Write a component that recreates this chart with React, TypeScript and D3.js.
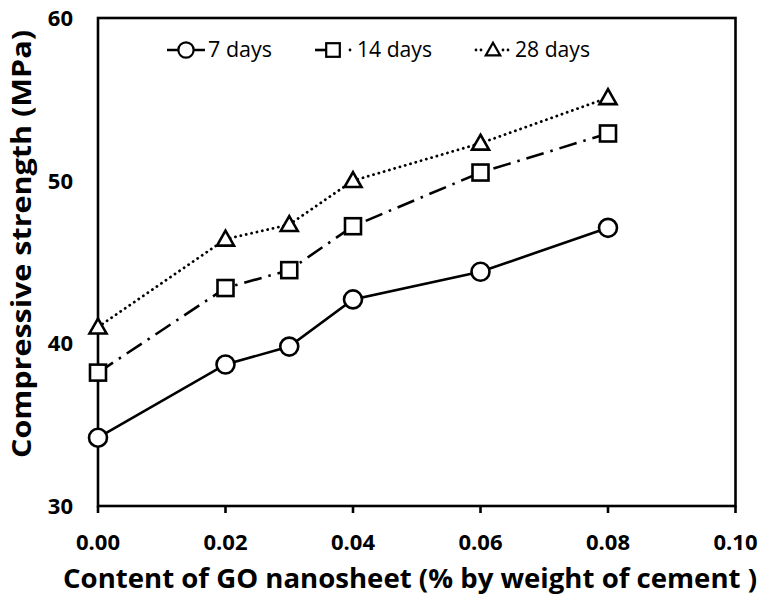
import React from "react";
import * as d3 from "d3";

const xValues = [0.0, 0.02, 0.03, 0.04, 0.06, 0.08];
const days7 = [34.2, 38.7, 39.8, 42.7, 44.4, 47.1];
const days14 = [38.2, 43.4, 44.5, 47.2, 50.5, 52.9];
const days28 = [41.0, 46.4, 47.3, 50.0, 52.3, 55.1];
const seriesNames = ["7 days", "14 days", "28 days"];
const xTicks = [0, 0.02, 0.04, 0.06, 0.08, 0.1];
const yTicks = [30, 40, 50, 60];

const W = 766;
const H = 599;
const left = 98;
const right = 735.5;
const top = 18;
const bottom = 506;
const FONT = "'Open Sans', 'Noto Sans', sans-serif";

function Marker({ kind, x, y }: { kind: string; x: number; y: number }) {
  const sw = 2.6;
  if (kind === "circle") return <circle cx={x} cy={y} r={9} fill="#fff" stroke="#000" strokeWidth={sw} />;
  if (kind === "square") return <rect x={x - 8} y={y - 8} width={16} height={16} fill="#fff" stroke="#000" strokeWidth={sw} />;
  const s = 8.5;
  return (
    <path
      d={`M${x},${y - s} L${x + s},${y + s * 0.75} L${x - s},${y + s * 0.75} Z`}
      fill="#fff"
      stroke="#000"
      strokeWidth={sw}
      strokeLinejoin="miter"
    />
  );
}

export default function App() {
  const x = d3.scaleLinear().domain([0, 0.1]).range([left, right]);
  const y = d3.scaleLinear().domain([30, 60]).range([bottom, top]);
  const line = d3
    .line<number>()
    .x((_, i) => x(xValues[i]))
    .y((d) => y(d));

  const series = [
    { name: seriesNames[0], values: days7, marker: "circle", dash: undefined as string | undefined, cap: "butt" },
    { name: seriesNames[1], values: days14, marker: "square", dash: "18,7,2.5,7", cap: "butt" },
    { name: seriesNames[2], values: days28, marker: "triangle", dash: "0.1,5.4", cap: "round" },
  ];

  const legendItems = [
    { x0: 167, x1: 205, mx: 186, tx: 208, tw: 64 },
    { x0: 315, x1: 352, mx: 333, tx: 357, tw: 75 },
    { x0: 474, x1: 510, mx: 493, tx: 515, tw: 75 },
  ];
  const legendY = 50;

  return (
    <svg width={W} height={H} style={{ position: "absolute", left: 0, top: 0, background: "#fff" }}>
      <rect x={0} y={0} width={W} height={H} fill="#fff" />
      {/* frame */}
      <rect x={left} y={top} width={right - left} height={bottom - top} fill="none" stroke="#000" strokeWidth={2.6} />
      {/* x ticks */}
      {xTicks.map((t) => (
        <g key={t}>
          <line x1={x(t)} x2={x(t)} y1={bottom} y2={bottom + 7} stroke="#000" strokeWidth={2.6} />
          <text x={x(t)} y={550} textAnchor="middle" fontFamily={FONT} fontWeight={700} fontSize={22}>
            {t.toFixed(2)}
          </text>
        </g>
      ))}
      {/* y labels */}
      {yTicks.map((t) => (
        <text key={t} x={73} y={y(t) + 8} textAnchor="end" fontFamily={FONT} fontWeight={700} fontSize={22}>
          {t}
        </text>
      ))}
      {/* axis titles */}
      <text
        x={410}
        y={588}
        textAnchor="middle"
        fontFamily={FONT}
        fontWeight={700}
        fontSize={26}
        textLength={694}
        lengthAdjust="spacingAndGlyphs"
      >
        Content of GO nanosheet (% by weight of cement )
      </text>
      <text
        transform={`translate(31,244) rotate(-90)`}
        textAnchor="middle"
        fontFamily={FONT}
        fontWeight={700}
        fontSize={26}
        textLength={428}
        lengthAdjust="spacingAndGlyphs"
      >
        Compressive strength (MPa)
      </text>
      {/* series */}
      {series.map((s) => (
        <g key={s.name}>
          <path
            d={line(s.values) || ""}
            fill="none"
            stroke="#000"
            strokeWidth={s.marker === "triangle" ? 2.8 : 2.6}
            strokeDasharray={s.dash}
            strokeLinecap={s.cap as any}
          />
          {s.values.map((v, i) => (
            <Marker key={i} kind={s.marker} x={x(xValues[i])} y={y(v)} />
          ))}
        </g>
      ))}
      {/* legend */}
      {series.map((s, i) => {
        const L = legendItems[i];
        return (
          <g key={s.name}>
            {s.marker === "circle" && (
              <line x1={L.x0} x2={L.x1} y1={legendY} y2={legendY} stroke="#000" strokeWidth={2.6} />
            )}
            {s.marker === "square" && (
              <>
                <line x1={L.x0} x2={L.mx} y1={legendY} y2={legendY} stroke="#000" strokeWidth={2.6} />
                <circle cx={L.x1 - 2} cy={legendY} r={1.4} fill="#000" />
              </>
            )}
            {s.marker === "triangle" && (
              <>
                <circle cx={L.x0 + 2} cy={legendY} r={1.4} fill="#000" />
                <circle cx={L.x0 + 7} cy={legendY} r={1.4} fill="#000" />
                <circle cx={L.x1 - 7} cy={legendY} r={1.4} fill="#000" />
                <circle cx={L.x1 - 2} cy={legendY} r={1.4} fill="#000" />
              </>
            )}
            <g transform={`translate(${L.mx},${legendY}) scale(0.85) translate(${-L.mx},${-legendY})`}>
              <Marker kind={s.marker} x={L.mx} y={legendY} />
            </g>
            <text
              x={L.tx}
              y={legendY + 7}
              fontFamily={FONT}
              fontSize={21}
              textLength={L.tw}
              lengthAdjust="spacingAndGlyphs"
            >
              {s.name}
            </text>
          </g>
        );
      })}
    </svg>
  );
}
